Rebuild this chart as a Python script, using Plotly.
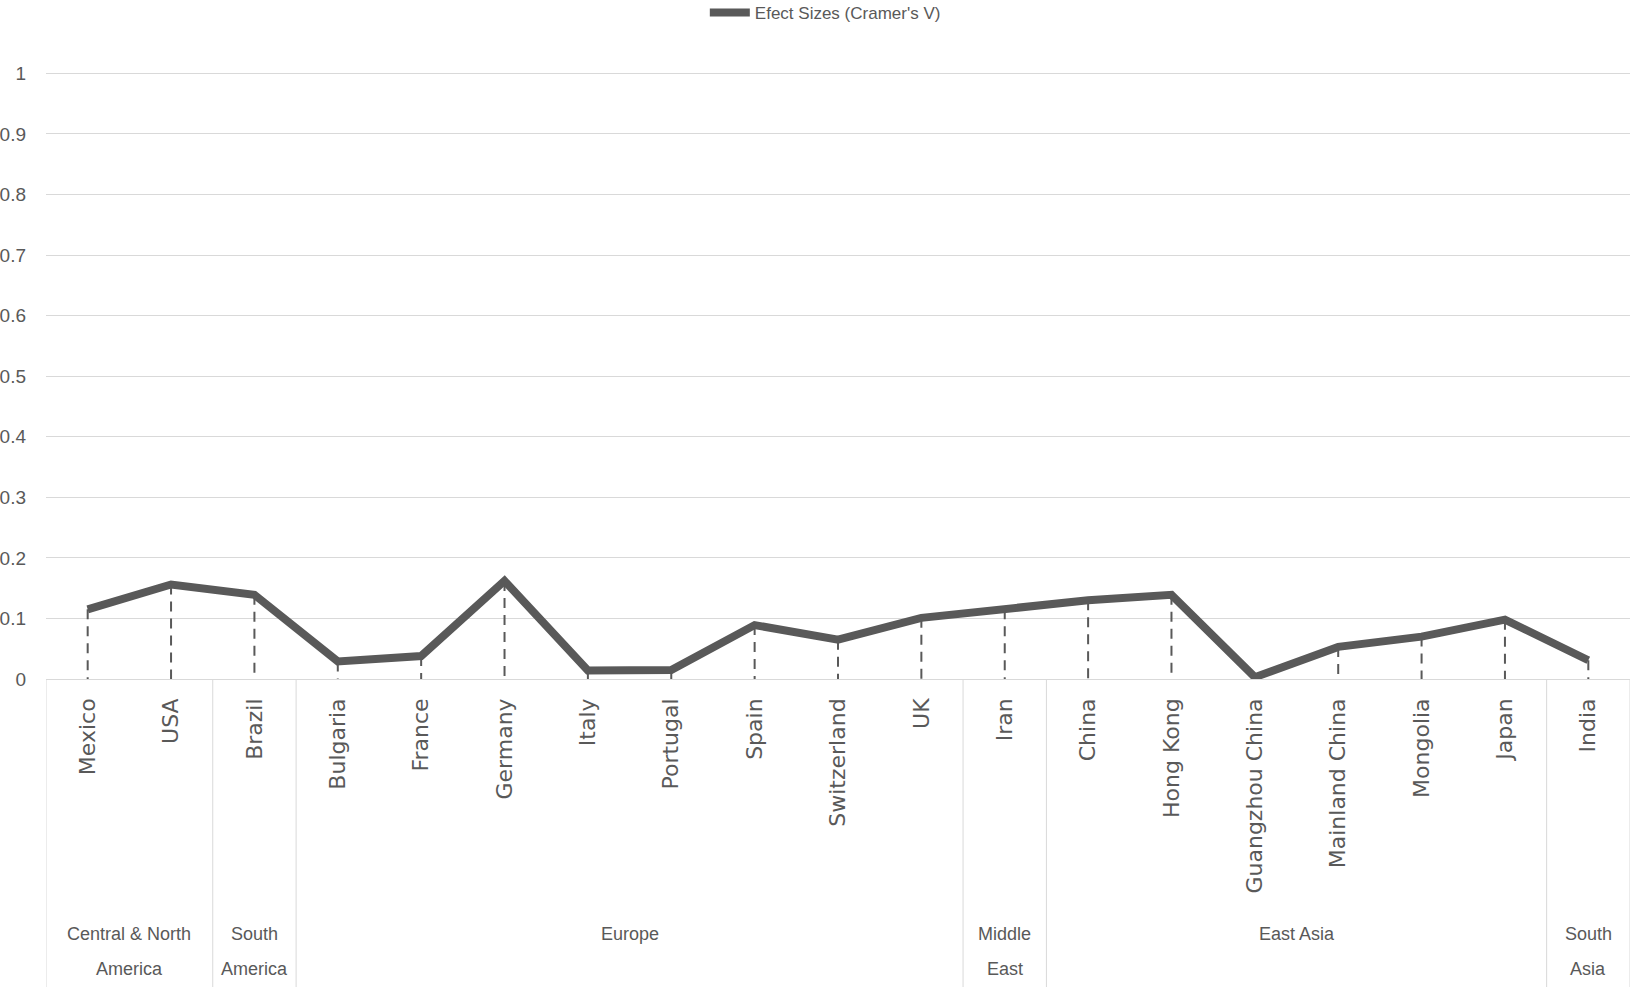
import plotly.graph_objects as go

countries = ["Mexico", "USA", "Brazil", "Bulgaria", "France", "Germany", "Italy",
             "Portugal", "Spain", "Switzerland", "UK", "Iran", "China", "Hong Kong",
             "Guangzhou China", "Mainland China", "Mongolia", "Japan", "India"]
effect_sizes = [0.115, 0.156, 0.139, 0.029, 0.038, 0.162, 0.014, 0.015, 0.089, 0.065,
                0.101, 0.115, 0.130, 0.139, 0.003, 0.053, 0.070, 0.098, 0.031]
regions = [["Central & North", "America"], ["South", "America"], ["Europe"],
           ["Middle", "East"], ["East Asia"], ["South", "Asia"]]
region_sizes = [2, 1, 8, 1, 6, 1]
y_ticks = [0, 0.1, 0.2, 0.3, 0.4, 0.5, 0.6, 0.7, 0.8, 0.9, 1]
y_tick_text = ["0", "0.1", "0.2", "0.3", "0.4", "0.5", "0.6", "0.7", "0.8", "0.9", "1"]

W, H = 1633, 989
ML, MR, MT, MB = 46, 3, 71, 310
PH = H - MT - MB
AXIS_Y = MT + PH
SANS = "Liberation Sans, Arial, sans-serif"
GREY = "#595959"

xs = list(range(len(countries)))

# dashed drop lines built from the data
drop_x, drop_y = [], []
for i, v in zip(xs, effect_sizes):
    drop_x += [i, i, None]
    drop_y += [v, 0, None]

fig = go.Figure()
fig.add_trace(go.Scatter(x=drop_x, y=drop_y, mode="lines", showlegend=False,
                         hoverinfo="skip",
                         line=dict(color=GREY, width=2, dash="10px,7px")))
fig.add_trace(go.Scatter(x=xs, y=effect_sizes, mode="lines",
                         name="Efect Sizes (Cramer's V)",
                         line=dict(color=GREY, width=8)))

# region separators and labels
shapes = []
annotations = []
bottom = -(987 - AXIS_Y) / PH
line_y = [934, 969]
start = 0
bounds = [-0.5]
for lines, n in zip(regions, region_sizes):
    end = start + n
    bounds.append(end - 0.5)
    center = (start + end - 1) / 2
    for k, txt in enumerate(lines):
        annotations.append(dict(x=center, y=-(line_y[k] - AXIS_Y) / PH, xref="x",
                                yref="paper", text=txt, showarrow=False,
                                xanchor="center", yanchor="middle",
                                font=dict(family=SANS, size=18, color=GREY)))
    start = end
for b in bounds:
    shapes.append(dict(type="line", xref="x", yref="paper", x0=b, x1=b, y0=0, y1=bottom,
                       line=dict(color="#d9d9d9", width=1)))

fig.update_layout(
    width=W, height=H,
    margin=dict(l=ML, r=MR, t=MT, b=MB, pad=0, autoexpand=False),
    paper_bgcolor="white", plot_bgcolor="white",
    shapes=shapes, annotations=annotations,
    showlegend=True,
    legend=dict(orientation="h", x=0.492, xanchor="center", y=1 + (MT - 13) / PH,
                yanchor="middle", font=dict(family=SANS, size=17, color=GREY),
                itemwidth=40, bgcolor="rgba(0,0,0,0)"),
    xaxis=dict(range=[-0.5, len(countries) - 0.5], tickmode="array", tickvals=xs,
               ticktext=countries, tickangle=-90, showgrid=False, zeroline=False,
               showline=False, ticks="", ticklabelstandoff=14,
               tickfont=dict(family="DejaVu Sans", size=22, color=GREY)),
    yaxis=dict(range=[0, 1.004], tickmode="array", tickvals=y_ticks, ticktext=y_tick_text,
               showgrid=True, gridcolor="#d9d9d9", gridwidth=1, zeroline=True,
               zerolinecolor="#d9d9d9", zerolinewidth=1, showline=False, ticks="",
               ticklabelstandoff=19,
               tickfont=dict(family=SANS, size=19, color=GREY)),
)

fig.write_html("out.html")
